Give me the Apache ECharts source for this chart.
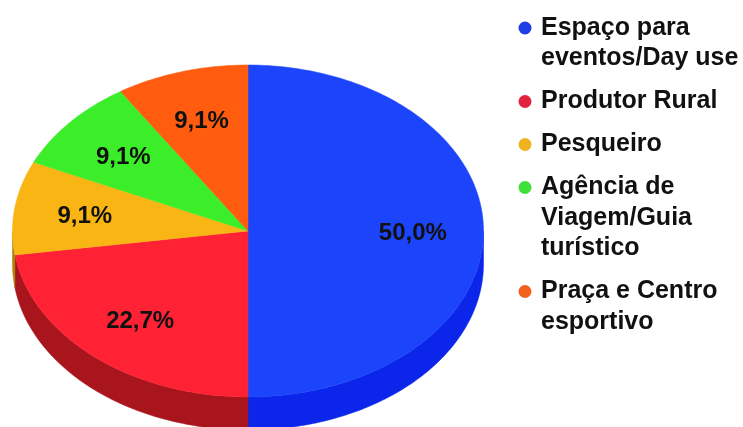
<!DOCTYPE html>
<html>
<head>
<meta charset="utf-8">
<script src="https://cdn.jsdelivr.net/npm/echarts@6/dist/echarts.min.js"></script>
<style>
  html, body { margin: 0; padding: 0; background: #ffffff; }
  #chart { width: 743px; height: 427px; }
</style>
</head>
<body>
<div id="chart"></div>
<script>
// Tipos de atividade (participação percentual)
const categories = [
  'Espaço para\neventos/Day use',
  'Produtor Rural',
  'Pesqueiro',
  'Agência de\nViagem/Guia\nturístico',
  'Praça e Centro\nesportivo'
];
const values = [50.0, 22.7, 9.1, 9.1, 9.1];

const topColors  = ['#1c45fb', '#fe2234', '#f9b514', '#3cee2a', '#ff5c10'];
const sideColors = ['#0b25ea', '#a8151c', '#b07f08', '#27a81c', '#b8400a'];
const legendColors = ['#1f3fe6', '#e2233f', '#f0b21e', '#3fe03a', '#f2601e'];

// Ellipse geometry of the tilted pie
const CX = 248, CY = 231, RX = 235.5, RY = 166, DEPTH = 33;
const total = values.reduce((a, b) => a + b, 0);
const starts = [];
let acc = 0;
values.forEach(v => { starts.push(acc / total * Math.PI * 2); acc += v; });

function pt(t, dy) {
  return [CX + RX * Math.sin(t), CY - RY * Math.cos(t) + (dy || 0)];
}
function arc(a1, a2, dy) {
  const pts = [];
  const n = Math.max(2, Math.ceil((a2 - a1) / (Math.PI / 180)));
  for (let i = 0; i <= n; i++) pts.push(pt(a1 + (a2 - a1) * i / n, dy));
  return pts;
}
function fmt(v) { return v.toFixed(1).replace('.', ',') + '%'; }

function renderItem(params, api) {
  const i = params.dataIndex;
  const v = api.value(0);
  const a1 = starts[i];
  const a2 = a1 + v / total * Math.PI * 2;
  const children = [];

  // Visible front wall: angles between 90° and 270° (clockwise from top)
  const s1 = Math.max(a1, Math.PI / 2), s2 = Math.min(a2, Math.PI * 1.5);
  if (s2 > s1) {
    const topEdge = arc(s1, s2, 0);
    const botEdge = arc(s1, s2, DEPTH).reverse();
    children.push({
      type: 'polygon',
      shape: { points: topEdge.concat(botEdge) },
      style: { fill: sideColors[i], stroke: sideColors[i], lineWidth: 0.5 }
    });
  }

  // Top face
  children.push({
    type: 'polygon',
    shape: { points: [[CX, CY]].concat(arc(a1, a2, 0)) },
    style: { fill: topColors[i], stroke: topColors[i], lineWidth: 0.5 }
  });

  // Percentage label
  const mid = (a1 + a2) / 2;
  const lp = [CX + RX * 0.7 * Math.sin(mid), CY - RY * 0.7 * Math.cos(mid) + 2];
  children.push({
    type: 'text',
    x: lp[0], y: lp[1],
    style: {
      text: fmt(v),
      fill: '#111111',
      font: 'bold 24px "Liberation Sans", Arial, sans-serif',
      align: 'center',
      verticalAlign: 'middle'
    }
  });

  return { type: 'group', children };
}

// Legend entries built from the category list
const legendGraphics = [];
let ly = 28;
categories.forEach((name, i) => {
  const lines = name.split('\n').length;
  legendGraphics.push({
    type: 'circle',
    shape: { cx: 525, cy: ly, r: 6.5 },
    style: { fill: legendColors[i] }
  });
  legendGraphics.push({
    type: 'text',
    x: 541, y: ly - 15.25,
    style: {
      text: name,
      fill: '#111111',
      font: 'bold 25px "Liberation Sans", Arial, sans-serif',
      lineHeight: 30.5,
      align: 'left',
      verticalAlign: 'top'
    }
  });
  ly += lines * 30.5 + 12.5;
});

const chart = echarts.init(document.getElementById('chart'), null, { renderer: 'canvas' });
chart.setOption({
  backgroundColor: '#ffffff',
  animation: false,
  series: [{
    type: 'custom',
    coordinateSystem: 'none',
    renderItem: renderItem,
    data: values.map((v, i) => ({ name: categories[i], value: [v] }))
  }],
  graphic: legendGraphics
});
</script>
</body>
</html>
